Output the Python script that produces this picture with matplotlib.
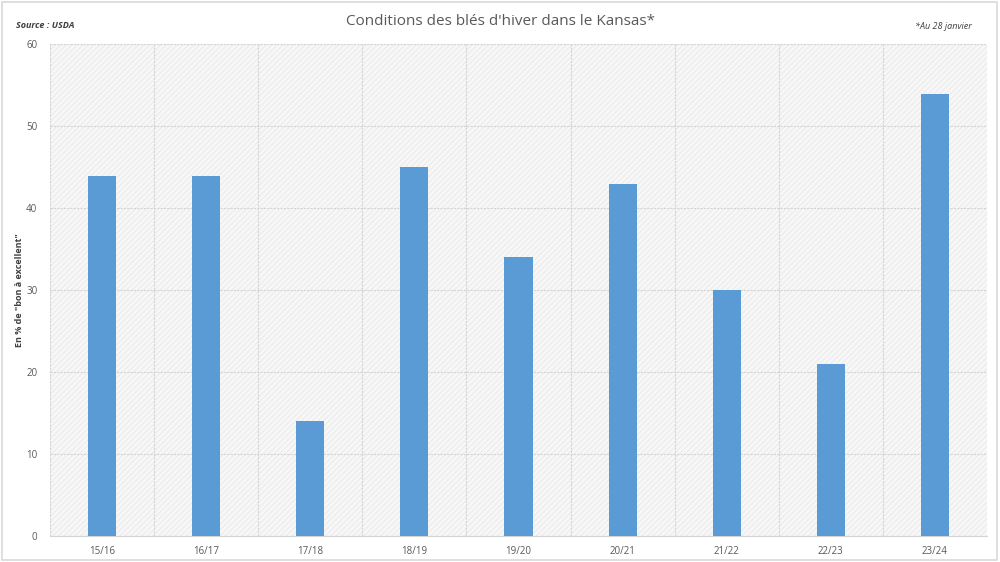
import matplotlib
matplotlib.use("Agg")
import matplotlib.pyplot as plt
from matplotlib.patches import Rectangle
import numpy as np

categories = ["15/16", "16/17", "17/18", "18/19", "19/20", "20/21", "21/22", "22/23", "23/24"]
values = [44, 44, 14, 45, 34, 43, 30, 21, 54]
yticks = [0, 10, 20, 30, 40, 50, 60]

plt.rcParams['font.family'] = ['Open Sans', 'DejaVu Sans']
plt.rcParams['hatch.color'] = '#e6e6e6'
plt.rcParams['hatch.linewidth'] = 0.6

fig = plt.figure(figsize=(10, 5.62), dpi=100)
ax = fig.add_axes([0.050, 0.046, 0.937, 0.875])

x = np.arange(len(categories))
ax.set_xlim(-0.5, len(categories) - 0.5)
ax.set_ylim(0, 60)

bg = Rectangle((0, 0), 1, 1, transform=ax.transAxes, facecolor='#f7f7f7',
               edgecolor='#e8e8e8', hatch='//////', lw=0, zorder=0)
ax.add_patch(bg)
ax.set_facecolor('none')

ax.bar(x, values, width=0.27, color='#5b9bd5', zorder=3)

ax.set_yticks(yticks)
ax.set_xticks(x)
ax.set_xticklabels(categories)
ax.set_xticks(np.arange(-0.5, len(categories), 1), minor=True)
ax.grid(axis='y', which='major', color='#d4d4d4', lw=0.8, ls=(0, (2, 1)), zorder=1)
ax.grid(axis='x', which='minor', color='#d4d4d4', lw=0.8, ls=(0, (2, 1)), zorder=1)
ax.grid(axis='x', which='major', visible=False)
ax.tick_params(axis='both', which='both', length=0, labelsize=7, colors='#595959')
ax.tick_params(axis='y', pad=9)
ax.tick_params(axis='x', pad=7)
for s in ['top', 'right', 'left']:
    ax.spines[s].set_visible(False)
ax.spines['bottom'].set_color('#d4d4d4')

fig.text(0.020, 0.046 + 0.875 / 2, 'En % de "bon à excellent"', rotation=90, ha='center', va='center',
         fontsize=6.5, fontweight='bold', color='#404040')

fig.text(0.5, 0.962, "Conditions des blés d'hiver dans le Kansas*", ha='center', va='center',
         fontsize=11, color='#595959')
fig.text(0.016, 0.955, "Source : USDA", ha='left', va='center', fontsize=6.5,
         style='italic', fontweight='bold', color='#404040')
fig.text(0.972, 0.952, "*Au 28 janvier", ha='right', va='center', fontsize=6.5,
         style='italic', color='#404040')

border = Rectangle((0.002, 0.003), 0.995, 0.994, transform=fig.transFigure, fill=False,
                   edgecolor='#d9d9d9', lw=1.2)
fig.patches.append(border)

fig.savefig("out.png", dpi=100)
